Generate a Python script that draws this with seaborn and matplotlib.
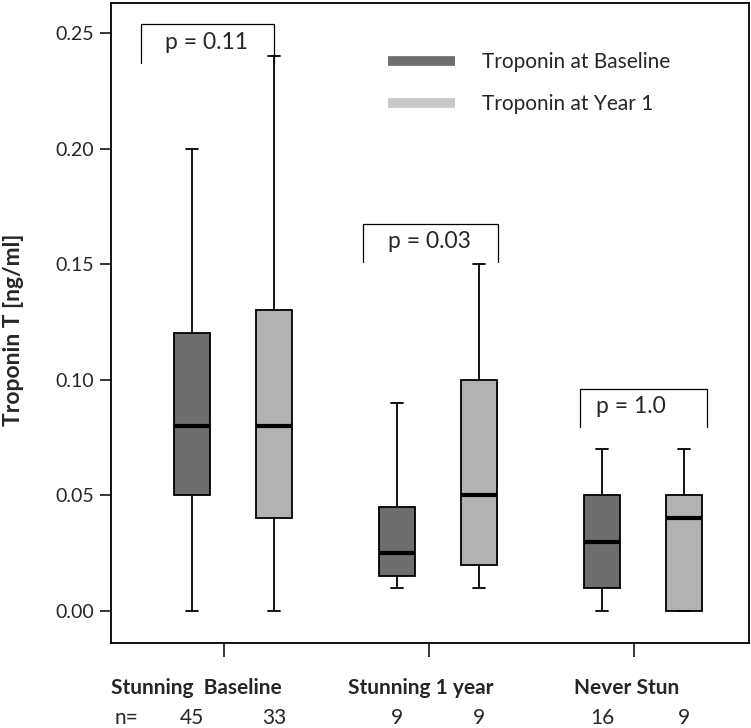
import numpy as np
import pandas as pd
import matplotlib.pyplot as plt
import matplotlib.transforms as mtransforms
from matplotlib.lines import Line2D
import seaborn as sns

# ============================================================
# Data (five-number summaries)
# ============================================================

groups = ["Stunning  Baseline", "Stunning 1 year", "Never Stun"]
timepoints = ["Troponin at Baseline", "Troponin at Year 1"]

# min, q1, median, q3, max
stun_base_baseline = [0.00, 0.050, 0.080, 0.120, 0.200]
stun_base_year1 = [0.00, 0.040, 0.080, 0.130, 0.240]
stun_1y_baseline = [0.010, 0.015, 0.025, 0.045, 0.090]
stun_1y_year1 = [0.010, 0.020, 0.050, 0.100, 0.150]
never_baseline = [0.00, 0.010, 0.030, 0.050, 0.070]
never_year1 = [0.00, 0.00, 0.040, 0.050, 0.070]

n_counts = [45, 33, 9, 9, 16, 9]
p_values = ["p = 0.11", "p = 0.03", "p = 1.0"]

summaries = [
    (groups[0], timepoints[0], stun_base_baseline),
    (groups[0], timepoints[1], stun_base_year1),
    (groups[1], timepoints[0], stun_1y_baseline),
    (groups[1], timepoints[1], stun_1y_year1),
    (groups[2], timepoints[0], never_baseline),
    (groups[2], timepoints[1], never_year1),
]

rows = []
for grp, tp, vals in summaries:
    for v in vals:
        rows.append({"group": grp, "time": tp, "troponin": v})
df = pd.DataFrame(rows)

# ============================================================
# Style
# ============================================================

sns.set_style("white")
plt.rcParams["font.family"] = ["Lato", "DejaVu Sans"]

dark = "#6e6e6e"
light = "#b2b2b2"
palette = {timepoints[0]: dark, timepoints[1]: light}

fig = plt.figure(figsize=(7.51, 7.28), dpi=100)
ax = fig.add_axes([0.1478, 0.1168, 0.8495, 0.8791])

# ============================================================
# Box plot
# ============================================================

sns.boxplot(
    data=df, x="group", y="troponin", hue="time",
    order=groups, hue_order=timepoints, palette=palette,
    saturation=1, whis=np.inf, width=0.8, gap=0.56, dodge=True,
    linecolor="black", linewidth=1.3,
    medianprops={"linewidth": 3, "color": "black"},
    legend=False, ax=ax,
)

# shorter whisker caps
for cont in ax.containers:
    for cap in cont.caps:
        xd = cap.get_xdata()
        c = np.mean(xd)
        cap.set_xdata([c - 0.028, c + 0.028])

ax.set_ylim(-0.0139, 0.263)
ax.set_xlim(-0.595, 2.517)
ax.set_yticks([0.0, 0.05, 0.10, 0.15, 0.20, 0.25])
ax.set_yticklabels(["0.00", "0.05", "0.10", "0.15", "0.20", "0.25"], fontsize=14)
ax.set_xticks([-0.044, 0.956, 1.956])
ax.set_xticklabels([])
ax.set_xlabel("")
ax.tick_params(axis="y", length=8, width=1.3, direction="out", left=True, pad=4)
ax.tick_params(axis="x", length=10, width=1.3, direction="out", bottom=True)
for s in ax.spines.values():
    s.set_color("black")
    s.set_linewidth(1.3)

ax.set_ylabel("Troponin T [ng/ml]", fontsize=16.5, fontweight="bold")
ax.yaxis.set_label_coords(-0.137, 0.49)

# ============================================================
# p-value brackets
# ============================================================

brackets = [(-0.45, 0.2, 0.2537), (0.634, 1.293, 0.1675), (1.693, 2.312, 0.0961)]
text_x = [-0.13, 0.96, 1.94]
for (x0, x1, yt), tx, label in zip(brackets, text_x, p_values):
    yb = yt - 0.0165
    ax.plot([x0, x0, x1, x1], [yb, yt, yt, yb], color="black", lw=0.9)
    ax.text(tx, yt - 0.0078, label, ha="center", va="center", fontsize=16.5)

# ============================================================
# Legend
# ============================================================

handles = [Line2D([], [], color=dark, lw=7, solid_capstyle="butt"),
           Line2D([], [], color="#c8c8c8", lw=7, solid_capstyle="butt")]
ax.legend(handles, timepoints, loc="upper left", bbox_to_anchor=(0.434, 0.923),
          frameon=False, fontsize=15, handlelength=3.2, handletextpad=1.3,
          labelspacing=1.05, borderaxespad=0, borderpad=0)

# ============================================================
# Group labels and n counts under the axis
# ============================================================

trans = mtransforms.blended_transform_factory(ax.transData, ax.transAxes)
label_x = [-0.18, 0.917, 1.92]
for lx, g in zip(label_x, groups):
    ax.text(lx, -0.070, g, transform=trans, ha="center", va="center",
            fontsize=15, fontweight="bold")

ax.text(-0.52, -0.117, "n=", transform=trans, ha="center", va="center", fontsize=15)
k = 0
for gi in range(len(groups)):
    for off in (-0.2, 0.2):
        ax.text(gi + off, -0.117, str(n_counts[k]), transform=trans,
                ha="center", va="center", fontsize=15)
        k += 1

plt.savefig("out.png", dpi=100)
